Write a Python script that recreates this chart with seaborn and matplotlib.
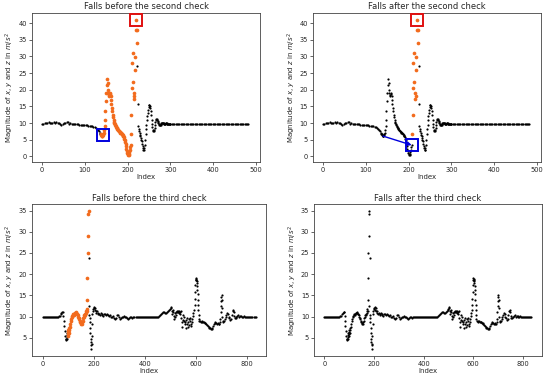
import matplotlib
matplotlib.use("Agg")
import pandas as pd
import matplotlib.pyplot as plt
import seaborn as sns

# --- DATA ---
# fall recorded for the "second check" panels (top row)
second_idx = [
    0, 3, 6, 9, 12, 15, 18, 21, 24, 27,
    30, 33, 36, 39, 42, 45, 48, 51, 54, 57,
    60, 63, 66, 69, 72, 75, 78, 81, 84, 87,
    90, 93, 96, 99, 102, 105, 108, 111, 114, 117,
    120, 123, 126, 129, 131, 133, 135, 136,
    137, 138, 139, 140, 141, 142, 143, 144, 145, 146,
    147, 148, 149, 150, 151, 152, 153, 154, 155, 156,
    157, 158, 159, 160, 161, 162, 163, 164, 165, 166,
    167, 168, 169, 170, 171, 172, 173, 174, 175, 176,
    177, 178, 179, 180, 181, 182, 183, 184, 185, 186,
    187, 188, 189, 190, 191, 192, 193, 194, 195, 196,
    197, 198, 199, 200, 201, 202, 203, 204, 205, 206,
    207, 208, 209, 210, 211, 212, 213, 214, 215, 216,
    217, 218, 219, 220, 221, 222, 223, 224, 225, 226,
    227, 228, 229, 230, 231, 232, 233, 234, 235, 236,
    237, 238, 239, 240, 241, 242, 243, 244, 245, 246,
    247, 248, 249, 250, 251, 252, 253, 254, 255, 256,
    257, 258, 259, 260, 261, 262, 263, 264, 265, 266,
    267, 268, 269, 270, 271, 272, 273, 274, 275, 276,
    277, 278, 279, 280, 281, 282, 283, 284, 285, 286,
    287, 288, 289, 290, 291, 292, 293, 294, 295, 296,
    297, 298, 299, 300,
    303, 306, 309, 312, 315, 318, 321, 324, 327, 330,
    333, 336, 339, 342, 345, 348, 351, 354, 357, 360,
    363, 366, 369, 372, 375, 378, 381, 384, 387, 390,
    393, 396, 399, 402, 405, 408, 411, 414, 417, 420,
    423, 426, 429, 432, 435, 438, 441, 444, 447, 450,
    453, 456, 459, 462, 465, 468, 471, 474, 477, 480,
    482,
]
second_mag = [
    9.7, 9.8, 10.0, 10.1, 10.0, 10.2, 10.1, 10.0, 10.1, 10.2,
    10.1, 10.2, 10.1, 9.9, 9.6, 9.4, 9.6, 9.9, 10.1, 10.4,
    10.2, 9.8, 9.9, 9.7, 9.7, 9.7, 9.6, 9.6, 9.6, 9.5,
    9.5, 9.5, 9.4, 9.4, 9.3, 9.3, 9.2, 9.2, 9.1, 9.0,
    8.9, 8.8, 8.6, 8.3, 8.0, 7.6, 7.1, 6.8,
    6.6, 6.4, 6.2, 6.1, 6.2, 6.4, 6.6, 7.0, 7.8, 9.0,
    11.0, 13.5, 16.5, 19.0, 21.5, 23.2, 22.0, 20.0, 19.0, 18.2,
    18.5, 19.0, 18.6, 18.0, 17.0, 15.8, 14.5, 13.5, 12.5, 11.8,
    11.0, 10.4, 10.0, 9.6, 9.3, 9.0, 8.8, 8.6, 8.4, 8.2,
    8.0, 7.8, 7.6, 7.5, 7.3, 7.2, 7.1, 7.0, 6.9, 6.8,
    6.6, 6.4, 6.2, 6.0, 5.7, 5.3, 4.8, 4.2, 3.6, 3.0,
    2.3, 1.6, 1.0, 0.6, 0.4, 0.5, 0.8, 1.3, 2.0, 2.8,
    3.4, 6.8, 12.5, 20.5, 28.0, 31.0, 22.2, 19.0, 17.2, 18.0,
    26.0, 29.8, 37.8, 41.0, 38.0, 34.0, 27.0, 15.8, 9.0, 8.3,
    7.5, 7.0, 6.5, 6.0, 5.5, 5.0, 4.5, 3.8, 3.0, 2.4,
    2.0, 1.9, 2.4, 3.5, 5.0, 6.8, 8.2, 9.5, 10.8, 12.0,
    13.0, 14.0, 14.8, 15.3, 15.4, 15.2, 14.6, 13.6, 12.4, 11.0,
    9.8, 8.7, 8.0, 7.6, 7.5, 7.8, 8.5, 9.4, 10.2, 10.8,
    11.1, 11.2, 11.0, 10.7, 10.3, 10.0, 9.7, 9.5, 9.4, 9.4,
    9.5, 9.7, 9.9, 10.0, 10.1, 10.1, 10.0, 9.9, 9.8, 9.7,
    9.7, 9.8, 9.9, 9.9, 9.9, 9.8, 9.8, 9.7, 9.7, 9.7,
    9.8, 9.8, 9.8, 9.8,
    9.8, 9.8, 9.7, 9.8, 9.7, 9.7, 9.8, 9.7, 9.7, 9.7,
    9.7, 9.8, 9.7, 9.7, 9.7, 9.7, 9.7, 9.7, 9.7, 9.7,
    9.7, 9.7, 9.7, 9.7, 9.7, 9.7, 9.7, 9.7, 9.7, 9.7,
    9.7, 9.7, 9.7, 9.7, 9.7, 9.7, 9.7, 9.7, 9.7, 9.7,
    9.7, 9.7, 9.7, 9.7, 9.7, 9.7, 9.7, 9.7, 9.7, 9.7,
    9.7, 9.7, 9.7, 9.7, 9.7, 9.7, 9.7, 9.7, 9.7, 9.7,
    9.7,
]

# fall recorded for the "third check" panels (bottom row)
third_idx = [
    0, 4, 8, 12, 16, 20, 24, 28, 32, 36,
    40, 44, 48, 52, 56, 60, 64, 68, 71, 74,
    77, 79, 81, 83, 85, 87, 89, 91, 92, 93,
    94, 95, 96, 97, 98, 99, 100, 101, 102, 103,
    104, 106, 108, 110, 112, 114, 116, 118, 120, 122,
    124, 126, 128, 130, 132, 134, 136, 138, 140, 142,
    144, 146, 148, 150, 152, 154, 156, 158, 160, 162,
    164, 166, 168, 170, 172, 173, 174, 175, 176, 177,
    178, 179, 180, 181, 182, 183, 184, 185, 186, 187,
    188, 189, 190, 191, 192, 193, 194, 195, 196, 198,
    200, 202, 204, 206, 208, 210, 213, 216, 219, 222,
    225, 228, 231, 234, 237, 240, 244, 248, 252, 256,
    260, 264, 268, 272, 276, 280, 284, 288, 292, 296,
    300, 304, 308, 312, 316, 320, 324, 328, 332, 336,
    340, 344, 348, 352, 356, 360, 364, 368, 372, 376,
    380, 384, 388, 392, 396, 400, 404, 408, 412, 416,
    420, 424, 428, 432, 436, 440, 444, 448, 452, 456,
    460, 464, 468, 472, 476, 480, 484, 488, 492, 496,
    499, 501, 503, 505, 507, 509, 511, 513, 515, 517,
    519, 521, 523, 525, 527, 529, 531, 533, 535, 537,
    539, 541, 543, 545, 547, 549, 551, 553, 555, 557,
    559, 561, 563, 565, 567, 569, 571, 573, 575, 577,
    579, 581, 583, 585, 587, 589, 591, 593, 595, 596,
    597, 598, 599, 600, 601, 602, 603, 604, 605, 606,
    607, 608, 609, 610, 611, 612, 614, 617, 620, 623,
    626, 629, 632, 635, 638, 641, 644, 647, 650, 653,
    656, 659, 662, 665, 668, 671, 674, 677, 680, 683,
    686, 689, 692, 694, 696, 697, 698, 699, 700, 701,
    702, 703, 704, 706, 708, 711, 714, 717, 720, 723,
    726, 729, 732, 735, 738, 741, 744, 746, 748, 750,
    753, 756, 759, 762, 766, 770, 774, 778, 782, 786,
    790, 794, 798, 802, 806, 810, 814, 818, 822, 826,
    830, 834,
]
third_mag = [
    9.9, 10.0, 9.9, 9.9, 10.0, 9.9, 9.9, 10.0, 9.9, 9.9,
    9.9, 10.0, 9.9, 9.9, 10.0, 10.0, 10.1, 10.2, 10.5, 10.8,
    11.0, 11.0, 10.2, 9.0, 7.8, 6.6, 5.5, 4.8, 4.5, 4.7,
    5.2, 4.6, 5.6, 6.2, 5.4, 6.8, 5.8, 6.4, 6.9, 6.2,
    7.2, 7.6, 8.3, 8.9, 9.5, 9.8, 10.2, 10.4, 10.6, 10.4,
    10.7, 10.9, 10.8, 11.0, 10.8, 10.6, 10.7, 10.3, 9.9, 9.6,
    9.3, 9.0, 8.7, 8.5, 8.3, 8.6, 8.2, 8.9, 9.6, 10.0,
    10.4, 10.6, 10.4, 10.8, 11.4, 11.8, 13.8, 11.2, 19.1, 24.9,
    28.9, 34.3, 34.9, 12.5, 23.7, 10.4, 9.6, 8.6, 7.4, 6.0,
    4.8, 3.9, 3.2, 2.3, 3.6, 5.5, 8.2, 10.5, 11.4, 11.7,
    12.0, 12.2, 11.6, 12.1, 11.3, 10.8, 11.2, 10.6, 10.9, 10.5,
    10.3, 10.8, 10.4, 10.6, 10.2, 10.5, 10.6, 10.3, 10.5, 10.4,
    10.2, 10.4, 10.0, 9.9, 10.2, 9.7, 9.4, 9.6, 10.3, 10.4,
    9.9, 9.4, 9.6, 9.9, 10.0, 10.1, 10.0, 9.9, 9.6, 9.4,
    9.7, 9.9, 9.8, 9.7, 9.8, 9.8, 9.9, 9.9, 9.9, 9.9,
    9.9, 10.0, 10.0, 9.9, 9.9, 9.9, 9.9, 9.8, 9.8, 9.8,
    9.8, 9.8, 9.8, 9.8, 9.8, 9.8, 9.8, 9.8, 9.9, 10.1,
    10.3, 10.5, 10.8, 11.0, 11.0, 10.9, 10.8, 11.0, 11.2, 11.5,
    11.8, 12.3, 12.0, 11.3, 10.6, 11.0, 11.6, 10.2, 9.5, 10.8,
    9.9, 11.0, 10.4, 11.3, 11.0, 11.4, 11.0, 11.2, 10.8, 11.1,
    10.5, 11.2, 9.6, 8.7, 7.6, 9.2, 10.3, 9.8, 9.0, 8.3,
    8.8, 7.4, 9.1, 9.7, 8.2, 7.6, 8.8, 9.4, 8.0, 8.9,
    9.6, 8.3, 7.7, 8.6, 9.5, 10.2, 10.9, 11.6, 12.8, 14.2,
    15.8, 17.4, 18.6, 19.0, 18.9, 18.6, 18.4, 18.0, 17.2, 16.3,
    15.2, 14.0, 12.8, 11.6, 10.4, 9.4, 9.0, 8.9, 8.8, 8.9,
    8.7, 8.6, 8.6, 8.4, 8.5, 8.2, 8.0, 7.8, 7.6, 7.4,
    7.2, 7.1, 7.0, 7.3, 7.8, 8.2, 8.5, 8.6, 8.4, 8.3,
    8.5, 8.3, 8.2, 8.6, 9.5, 11.0, 12.5, 13.7, 14.6, 15.1,
    14.0, 12.0, 10.0, 9.0, 8.6, 9.0, 9.4, 9.8, 10.4, 10.8,
    10.6, 10.0, 9.6, 9.2, 9.5, 10.4, 11.2, 11.5, 11.0, 10.2,
    9.6, 9.7, 9.9, 10.2, 10.3, 10.0, 10.1, 10.2, 10.0, 9.9,
    10.1, 10.0, 9.9, 10.0, 9.9, 9.9, 9.9, 10.0, 9.9, 9.9,
    9.8, 9.8,
]

# index ranges flagged as fall (orange) in each panel
second_before_span = (137, 222)
second_after_span = (208, 222)
third_before_span = (98, 180)
third_after_span = None

# samples marked with boxes in the top row
second_before_red, second_before_blue = 220, 142
second_after_red, second_after_blue, second_after_arrow_from = 220, 207, 140

titles = ["Falls before the second check", "Falls after the second check",
          "Falls before the third check", "Falls after the third check"]

ORANGE = "#f26b1d"
YLABEL = r"Magnitude of $x$, $y$ and $z$ in $m/s^2$"


def mag_at(idx_list, mag_list, i):
    return mag_list[idx_list.index(i)]


def draw_panel(ax, idx, mag, span, title):
    df = pd.DataFrame({"Index": idx, "Magnitude": mag})
    if span is None:
        df["hot"] = False
    else:
        df["hot"] = df["Index"].between(span[0], span[1])
    sns.scatterplot(data=df[~df["hot"]], x="Index", y="Magnitude",
                    color="black", s=2.5, linewidth=0, ax=ax)
    if df["hot"].any():
        sns.scatterplot(data=df[df["hot"]], x="Index", y="Magnitude",
                        color=ORANGE, s=7, linewidth=0, ax=ax)
    ax.set_title(title, fontsize=6, pad=2.5)
    ax.set_xlabel("Index", fontsize=5, labelpad=1)
    ax.set_ylabel(YLABEL, fontsize=5, labelpad=1.5)
    ax.tick_params(labelsize=4.8, length=2, width=0.5, pad=1.5)
    for sp in ax.spines.values():
        sp.set_linewidth(0.6)
        sp.set_color("#444444")


def box(ax, x, y, color):
    ax.plot([x], [y], marker="s", ms=8.5, mfc="none", mec=color, mew=1.4, zorder=5)


sns.set_style("ticks")
plt.rcParams["font.family"] = ["DejaVu Sans"]

fig = plt.figure(figsize=(5.5, 3.8), dpi=100)
ax1 = fig.add_axes([0.058, 0.574, 0.415, 0.392])
ax2 = fig.add_axes([0.569, 0.574, 0.415, 0.392])
ax3 = fig.add_axes([0.058, 0.063, 0.426, 0.400])
ax4 = fig.add_axes([0.571, 0.063, 0.414, 0.400])

draw_panel(ax1, second_idx, second_mag, second_before_span, titles[0])
draw_panel(ax2, second_idx, second_mag, second_after_span, titles[1])
draw_panel(ax3, third_idx, third_mag, third_before_span, titles[2])
draw_panel(ax4, third_idx, third_mag, third_after_span, titles[3])

for ax in (ax1, ax2):
    ax.set_xlim(-24, 510)
    ax.set_xticks([0, 100, 200, 300, 400, 500])
    ax.set_yticks(range(0, 41, 5))

box(ax1, second_before_red, mag_at(second_idx, second_mag, second_before_red), "#e01010")
box(ax1, second_before_blue, mag_at(second_idx, second_mag, second_before_blue), "#0000dd")
box(ax2, second_after_red, mag_at(second_idx, second_mag, second_after_red), "#e01010")
box(ax2, second_after_blue, mag_at(second_idx, second_mag, second_after_blue), "#0000dd")
ax2.annotate("", xy=(second_after_blue, mag_at(second_idx, second_mag, second_after_blue)),
             xytext=(second_after_arrow_from, mag_at(second_idx, second_mag, second_after_arrow_from)),
             arrowprops=dict(arrowstyle="-|>", color="#0000dd", lw=1.0, mutation_scale=6,
                             shrinkA=0, shrinkB=0))

for ax in (ax3, ax4):
    ax.set_xticks([0, 200, 400, 600, 800])

plt.savefig("out.png", dpi=100)
plt.close()
